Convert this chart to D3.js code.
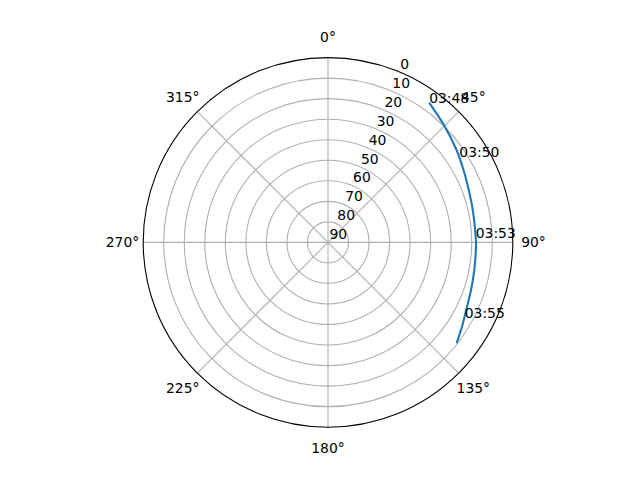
<!DOCTYPE html>
<html>
<head>
<meta charset="utf-8">
<script src="https://cdn.jsdelivr.net/npm/d3@7"></script>
<style>
  body { margin: 0; background: #fff; }
  text { font-family: "DejaVu Sans", sans-serif; font-size: 13.9px; fill: #000; }
</style>
</head>
<body>
<svg id="chart" width="640" height="480"></svg>
<script>
// satellite pass: azimuth (deg, clockwise from north) and elevation (deg)
const azimuth = [35.9, 45.3, 54.3, 57.1, 64.4, 74.8, 81.3, 88.2, 90.3, 100.7, 108.4, 116.0, 118.8, 122.2, 128.1];
const elevation = [6.0, 9.9, 12.9, 13.8, 15.8, 17.5, 18.0, 18.0, 17.9, 17.5, 16.6, 15.1, 14.2, 12.9, 10.4];

// time labels along the track
const timeLabels = ["03:48", "03:50", "03:53", "03:55"];
const timeAz = [35.9, 57.1, 88.2, 118.8];
const timeEl = [6.0, 13.8, 18.0, 14.0];

const thetaTicks = [0, 45, 90, 135, 180, 225, 270, 315];
const rTicks = [0, 10, 20, 30, 40, 50, 60, 70, 80, 90];

const width = 640, height = 480;
const cx = 328, cy = 242.4, R = 184.8;

const svg = d3.select("#chart");
const g = svg.append("g").attr("transform", `translate(${cx},${cy})`);

const angle = d3.scaleLinear().domain([0, 360]).range([0, 2 * Math.PI]);
const radius = d3.scaleLinear().domain([90, 0]).range([0, R]);

// x/y helper, angle clockwise from north
const px = (a, r) => radius(r) * Math.sin(angle(a));
const py = (a, r) => -radius(r) * Math.cos(angle(a));

// grid circles
g.selectAll(".rgrid")
  .data(rTicks.filter(d => d > 0 && d < 90))
  .join("circle")
  .attr("class", "rgrid")
  .attr("r", d => radius(d))
  .attr("fill", "none")
  .attr("stroke", "#b0b0b0")
  .attr("stroke-width", 1.1);

// spokes
g.selectAll(".tgrid")
  .data(thetaTicks)
  .join("line")
  .attr("class", "tgrid")
  .attr("x1", 0).attr("y1", 0)
  .attr("x2", d => px(d, 0))
  .attr("y2", d => py(d, 0))
  .attr("stroke", "#b0b0b0")
  .attr("stroke-width", 1.1);

// track
const track = azimuth.map((a, i) => [a, elevation[i]]);
const line = d3.lineRadial()
  .angle(d => angle(d[0]))
  .radius(d => radius(d[1]))
  .curve(d3.curveCatmullRom);

g.append("path")
  .datum(track)
  .attr("d", line)
  .attr("fill", "none")
  .attr("stroke", "#1f77b4")
  .attr("stroke-width", 2.1);

// outer frame
g.append("circle")
  .attr("r", R)
  .attr("fill", "none")
  .attr("stroke", "#000")
  .attr("stroke-width", 1.1);

// theta labels
g.selectAll(".tlabel")
  .data(thetaTicks)
  .join("text")
  .attr("class", "tlabel")
  .attr("x", d => (R + 20.7) * Math.sin(angle(d)))
  .attr("y", d => -(R + 20.7) * Math.cos(angle(d)))
  .attr("text-anchor", "middle")
  .attr("dominant-baseline", "central")
  .text(d => d + "°");

// radial labels at 22.5 deg
g.selectAll(".rlabel")
  .data(rTicks)
  .join("text")
  .attr("class", "rlabel")
  .attr("x", d => px(22.5, d) + 1.5)
  .attr("y", d => py(22.5, d) - 3)
  .attr("text-anchor", "start")
  .text(d => d);

// time labels
g.selectAll(".time")
  .data(timeLabels)
  .join("text")
  .attr("class", "time")
  .attr("x", (d, i) => px(timeAz[i], timeEl[i]))
  .attr("y", (d, i) => py(timeAz[i], timeEl[i]))
  .attr("text-anchor", "start")
  .text(d => d);
</script>
</body>
</html>
